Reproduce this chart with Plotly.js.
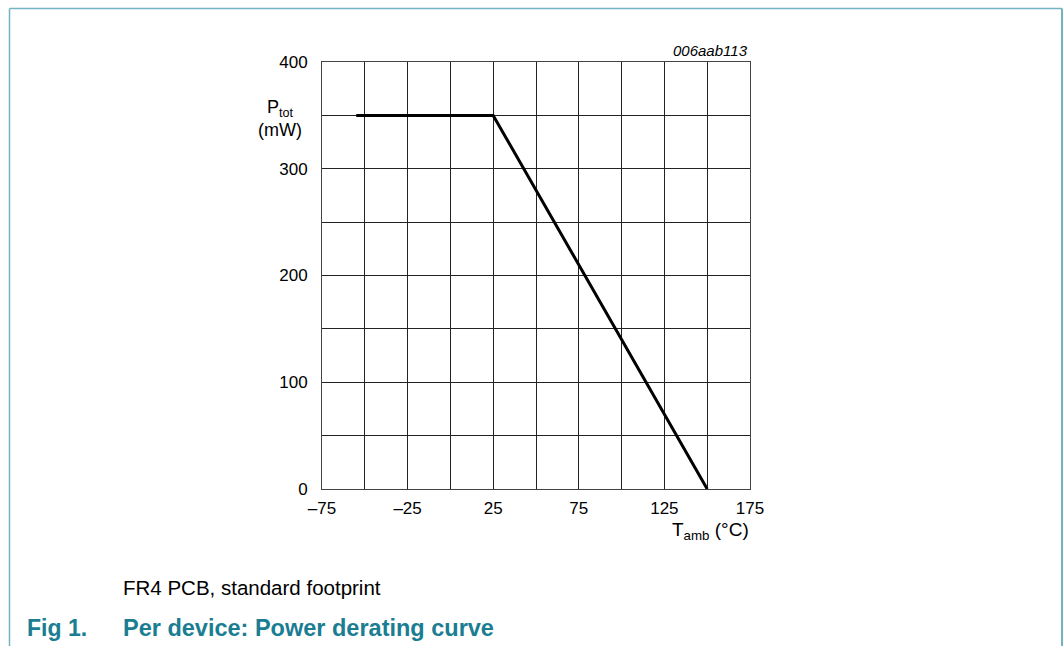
<!DOCTYPE html>
<html><head><meta charset="utf-8">
<script src="https://cdn.plot.ly/plotly-3.0.1.min.js"></script>
<style>html,body{margin:0;padding:0;background:#fff}#c{width:1064px;height:646px}</style>
</head><body><div id="c"></div>
<script>
const tempC = [-55, 25, 150];
const powerMW = [350, 350, 0];
const xGrid = [-75, -50, -25, 0, 25, 50, 75, 100, 125, 150, 175];
const xLabels = ['–75', '', '–25', '', '25', '', '75', '', '125', '', '175'];
const yGrid = [0, 50, 100, 150, 200, 250, 300, 350, 400];
const yLabels = ['0', '', '100', '', '200', '', '300', '', '400'];

const L = 322, R = 750, T = 62, B = 489, W = 1064, H = 646;
const px = x => (x - L) / (R - L);
const py = y => (B - y) / (B - T);
const teal = '#1b7d92';
const frame = '#74b4c2';
const font = {family: 'Liberation Sans, Arial, sans-serif', color: '#000'};

const data = [{
  x: tempC, y: powerMW, type: 'scatter', mode: 'lines',
  line: {color: '#000', width: 3}, hoverinfo: 'skip'
}];

const axisCommon = {
  showgrid: true, gridcolor: '#222', gridwidth: 1,
  showline: true, linecolor: '#444', linewidth: 1, mirror: true,
  zeroline: false, ticks: '', tickfont: Object.assign({size: 17}, font),
  fixedrange: true
};

const layout = {
  width: W, height: H,
  margin: {l: L, r: W - R, t: T, b: H - B, pad: 0},
  paper_bgcolor: '#fff', plot_bgcolor: '#fff',
  showlegend: false,
  xaxis: Object.assign({}, axisCommon, {range: [-75, 175], tickmode: 'array', tickvals: xGrid, ticktext: xLabels, ticklabelstandoff: 4}),
  yaxis: Object.assign({}, axisCommon, {range: [0, 400], tickmode: 'array', tickvals: yGrid, ticktext: yLabels, ticklabelstandoff: 10}),
  shapes: [
    {type: 'line', xref: 'paper', yref: 'paper', x0: px(9.5), x1: px(9.5), y0: py(8.5), y1: py(660), line: {color: frame, width: 1.5}},
    {type: 'line', xref: 'paper', yref: 'paper', x0: px(9.5), x1: px(1062), y0: py(8.5), y1: py(8.5), line: {color: frame, width: 1.5}},
    {type: 'line', xref: 'paper', yref: 'paper', x0: px(1062), x1: px(1062), y0: py(8.5), y1: py(660), line: {color: frame, width: 2}}
  ],
  annotations: [
    {xref: 'paper', yref: 'paper', x: px(750), y: py(51), xanchor: 'right', yanchor: 'middle', showarrow: false,
     text: '<i>006aab113</i>', font: Object.assign({size: 15}, font)},
    {xref: 'paper', yref: 'paper', x: px(280), y: py(118), xanchor: 'center', yanchor: 'middle', showarrow: false,
     text: 'P<sub>tot</sub><br>(mW)', align: 'center', font: Object.assign({size: 18}, font)},
    {xref: 'paper', yref: 'paper', x: px(751), y: py(531), xanchor: 'right', yanchor: 'middle', showarrow: false,
     text: 'T<sub>amb</sub> (°C)', font: Object.assign({size: 19}, font)},
    {xref: 'paper', yref: 'paper', x: px(121), y: py(587), xanchor: 'left', yanchor: 'middle', showarrow: false,
     text: 'FR4 PCB, standard footprint', font: Object.assign({size: 20.5}, font)},
    {xref: 'paper', yref: 'paper', x: px(25), y: py(628), xanchor: 'left', yanchor: 'middle', showarrow: false,
     text: '<b>Fig 1.</b>', font: {family: font.family, size: 23, color: teal}},
    {xref: 'paper', yref: 'paper', x: px(121), y: py(628), xanchor: 'left', yanchor: 'middle', showarrow: false,
     text: '<b>Per device: Power derating curve</b>', font: {family: font.family, size: 23.5, color: teal}}
  ]
};

Plotly.newPlot('c', data, layout, {displayModeBar: false, staticPlot: true});
</script></body></html>
